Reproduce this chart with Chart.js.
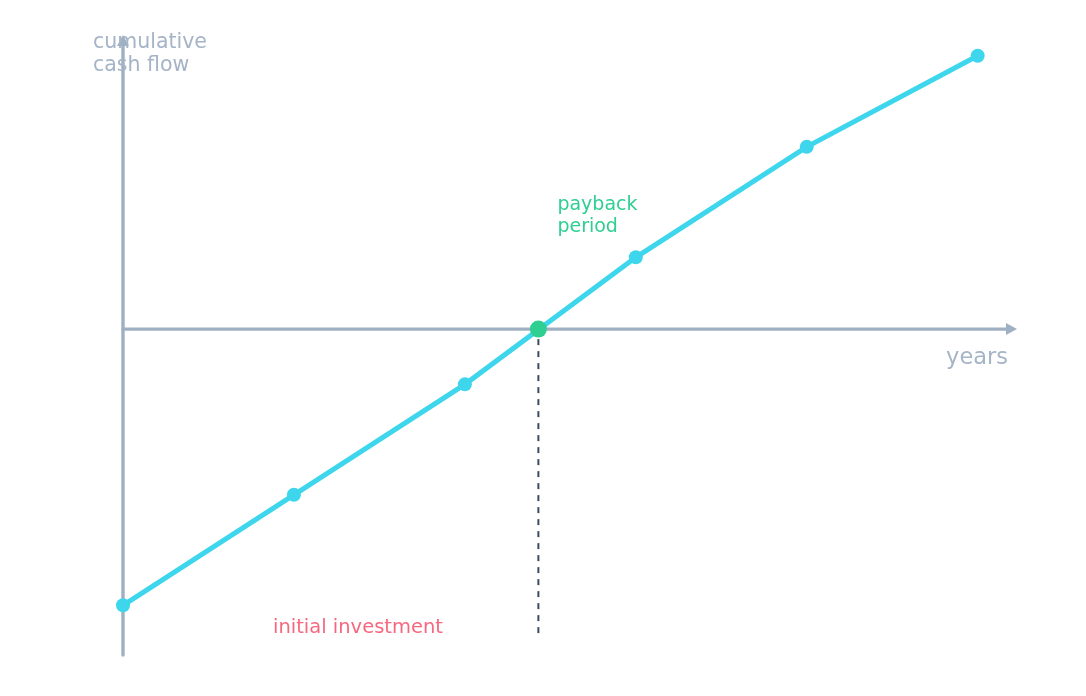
<!DOCTYPE html>
<html>
<head>
<meta charset="utf-8">
<title>Payback period</title>
<script src="https://cdn.jsdelivr.net/npm/chart.js@4/dist/chart.umd.min.js"></script>
<style>
  html, body { margin: 0; padding: 0; background: #ffffff; }
  #wrap { width: 1086px; height: 696px; }
</style>
</head>
<body>
<div id="wrap"><canvas id="payback_chart"></canvas></div>
<script>
// chart data
const years = [0, 1, 2, 3, 4, 5];
const cashFlow = [-100, -60, -20, 26, 66, 99];
const paybackYear = 2.43;

const axisColor = '#a0b0c3';
const lineColor = '#3dd6ec';
const paybackColor = '#2fcf91';

// draws the arrow axes, dashed marker and labels
const payback_plugin = {
    id: 'payback_plugin',
    beforeDatasetsDraw(chart) {
        const ctx = chart.ctx;
        const x = chart.scales.x;
        const y = chart.scales.y;
        const x0 = x.getPixelForValue(0);
        const y0 = y.getPixelForValue(0);
        ctx.save();
        ctx.strokeStyle = axisColor;
        ctx.fillStyle = axisColor;
        ctx.lineWidth = 3.4;
        ctx.lineCap = 'round';
        // y axis
        ctx.beginPath();
        ctx.moveTo(x0, y.bottom);
        ctx.lineTo(x0, y.top + 8);
        ctx.stroke();
        ctx.beginPath();
        ctx.moveTo(x0, y.top);
        ctx.lineTo(x0 - 6, y.top + 11);
        ctx.lineTo(x0 + 6, y.top + 11);
        ctx.closePath();
        ctx.fill();
        // x axis
        ctx.beginPath();
        ctx.moveTo(x0, y0);
        ctx.lineTo(x.right - 8, y0);
        ctx.stroke();
        ctx.beginPath();
        ctx.moveTo(x.right, y0);
        ctx.lineTo(x.right - 11, y0 - 6);
        ctx.lineTo(x.right - 11, y0 + 6);
        ctx.closePath();
        ctx.fill();
        // dashed line below payback point
        const px = x.getPixelForValue(paybackYear);
        ctx.strokeStyle = '#3d4b5e';
        ctx.lineWidth = 2;
        ctx.lineCap = 'butt';
        ctx.setLineDash([6, 6]);
        ctx.beginPath();
        ctx.moveTo(px, y0 + 10);
        ctx.lineTo(px, y.bottom - 20);
        ctx.stroke();
        ctx.restore();
    },
    afterDatasetsDraw(chart) {
        const ctx = chart.ctx;
        const x = chart.scales.x;
        const y = chart.scales.y;
        const x0 = x.getPixelForValue(0);
        const y0 = y.getPixelForValue(0);
        const px = x.getPixelForValue(paybackYear);
        ctx.save();
        ctx.textBaseline = 'middle';
        // axis titles
        ctx.font = '20.5px "DejaVu Sans"';
        ctx.fillStyle = '#a5b4c7';
        ctx.textAlign = 'left';
        ctx.fillText('cumulative', x0 - 30, y.top + 8);
        ctx.fillText('cash flow', x0 - 30, y.top + 31);
        ctx.font = '22.5px "DejaVu Sans"';
        ctx.textAlign = 'right';
        ctx.fillText('years', x.right - 9, y0 + 29);
        // payback label
        ctx.font = '19px "DejaVu Sans"';
        ctx.fillStyle = paybackColor;
        ctx.textAlign = 'left';
        ctx.fillText('payback', px + 19, y0 - 124);
        ctx.fillText('period', px + 19, y0 - 102);
        // initial investment label
        ctx.font = '19.5px "DejaVu Sans"';
        ctx.fillStyle = '#f7687f';
        ctx.fillText('initial investment', x0 + 150, y.bottom - 27);
        ctx.restore();
    }
};

const data = {
    labels: years,
    datasets: [{
        label: 'payback',
        data: [{x: paybackYear, y: 0}],
        showLine: false,
        pointRadius: 8.5,
        pointBackgroundColor: paybackColor,
        pointBorderWidth: 0,
        order: 0
    }, {
        label: 'cumulative cash flow',
        data: years.map((yr, k) => ({x: yr, y: cashFlow[k]})),
        borderColor: lineColor,
        borderWidth: 5,
        pointRadius: 7,
        pointBackgroundColor: lineColor,
        pointBorderWidth: 0,
        tension: 0,
        clip: false,
        order: 1
    }]
};

const config = {
    type: 'scatter',
    data: data,
    options: {
        responsive: false,
        animation: false,
        devicePixelRatio: 1,
        layout: { padding: { left: 123, right: 69, top: 35, bottom: 41 } },
        scales: {
            x: { type: 'linear', display: false, min: 0, max: 5.23 },
            y: { type: 'linear', display: false, min: -118, max: 106.5 }
        },
        datasets: { scatter: { showLine: true } },
        plugins: {
            legend: { display: false },
            tooltip: { enabled: false }
        }
    },
    plugins: [payback_plugin]
};

const canvas = document.getElementById('payback_chart');
canvas.width = 1086;
canvas.height = 696;
const myChart = new Chart(canvas, config);
</script>
</body>
</html>
